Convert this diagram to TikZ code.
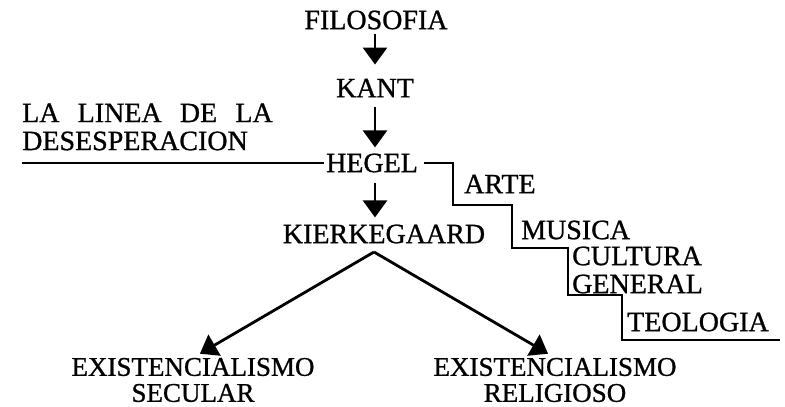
\documentclass[tikz,border=0pt]{standalone}
\usepackage{fontspec}
\setmainfont{Liberation Serif}[BoldFont=Liberation Serif, BoldFeatures={FakeBold=0.9}]
\usetikzlibrary{arrows.meta}
\usetikzlibrary{positioning}

\begin{document}
\begin{tikzpicture}[x=1pt, y=-1pt,
    every node/.style={inner sep=0pt, font=\fontsize{28}{25}\bfseries},
    arr/.style={line width=2.8pt, -{Triangle[width=24pt,length=17pt]},
      shorten <=8pt, shorten >=8pt},
    stair/.style={line width=2.8pt},
    bottomlabel/.style={align=center, font=\fontsize{27}{26}\bfseries}]
    \useasboundingbox (0,0) rectangle (785,407);
    \node (filo) at (376,20) {FILOSOFIA};
    \node (kant) at (375,88) {KANT};
    \node (hegel) at (372,163) {HEGEL};
    \node (kierk) at (384,234) {KIERKEGAARD};
    \node[bottomlabel] (secular) at (193,380) {EXISTENCIALISMO\\SECULAR};
    \node[bottomlabel] (religioso) at (555,380) {EXISTENCIALISMO\\RELIGIOSO};
    \node[right, align=left] (linea) at (22,127)
    {LA\hspace{.65em}LINEA\hspace{.65em}DE\hspace{.65em}LA\\[3pt]DESESPERACION};
    \node[right] (arte) at (464,184) {ARTE};
    \node[right] (musica) at (521,230) {MUSICA};
    \node[right, align=left] (cultura) at (572,270) {CULTURA\\[3pt]GENERAL};
    \node[right] (teologia) at (627,322) {TEOLOGIA};
    \coordinate (linestart) at (22,163);
    \coordinate (stairend) at (780,340);
    \coordinate (apex) at (374,252);
    \draw[arr, shorten <=4pt, shorten >=14pt] (filo.south -| kant) -- (kant);
    \draw[arr, shorten <=10pt, shorten >=6pt] (kant) -- (kant.south |- hegel.north);
    \draw[arr, shorten <=10pt, shorten >=7pt] (hegel.south -| kant) -- (kierk.north -| kant);
    \draw[arr, shorten <=0pt] (apex) -- (secular.north);
    \draw[arr, shorten <=0pt] (apex) -- (religioso.north);
    \draw[stair] (linestart) -- ([xshift=-2pt]hegel.west);
    \draw[stair] ([xshift=6pt]hegel.east) -| (453,205) -| (512,248)
    -| (568,295) -| (622,340) -- (stairend);
  \end{tikzpicture}
\end{document}
